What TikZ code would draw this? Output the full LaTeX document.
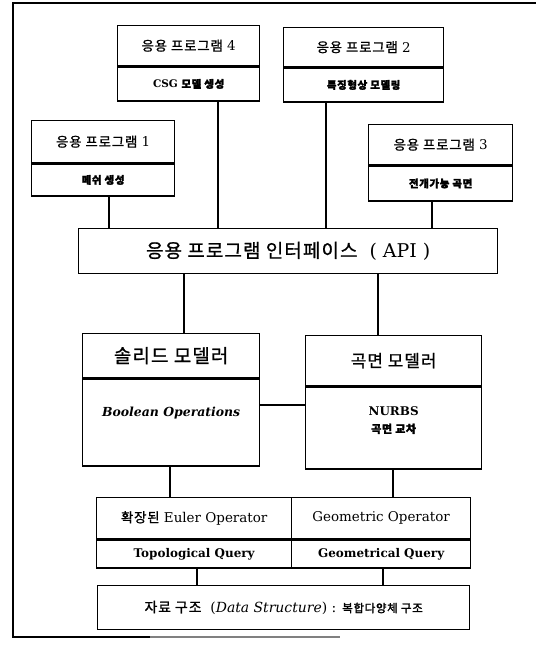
\documentclass[tikz,border=0pt]{standalone}
\usepackage{fontspec}
\setmainfont{DejaVu Serif}
\newfontfamily\kr{Noto Sans CJK KR}[LetterSpace=6,FakeBold=1]
\newfontfamily\krb{Noto Sans CJK KR}[FakeBold=2,LetterSpace=6]
\begin{document}
\begin{tikzpicture}[x=1bp,y=-1bp,
  box/.style={draw,line width=1.3bp,inner sep=0pt,anchor=north west,align=center},
  conn/.style={draw,line width=1.1bp},
  ttl/.style={font=\fontsize{13.5}{15}\selectfont},
  sub/.style={font=\fontsize{10.5}{12}\selectfont\bfseries},
  qry/.style={font=\fontsize{12}{14}\selectfont\bfseries},
  big/.style={font=\fontsize{17}{20}\selectfont}]
\useasboundingbox (0,0) rectangle (536,647);
% frame
\draw[line width=1.2bp] (536,3) -- (13,3) -- (13,637) -- (150,637);
\draw[line width=1.1bp,gray] (150,637) -- (340,637);
% application boxes
\node[box,ttl,minimum width=142bp,minimum height=40bp] (a4t) at (117,25) {{\kr 응용 프로그램} 4};
\node[box,sub,minimum width=142bp,minimum height=34bp] (a4b) at (a4t.south west) {CSG {\krb 모델 생성}};
\node[box,ttl,minimum width=160bp,minimum height=39bp] (a2t) at (283,27) {{\kr 응용 프로그램} 2};
\node[box,sub,minimum width=160bp,minimum height=34bp] (a2b) at (a2t.south west) {{\krb 특징형상 모델링}};
\node[box,ttl,minimum width=143bp,minimum height=42bp] (a1t) at (31,120) {{\kr 응용 프로그램} 1};
\node[box,sub,minimum width=143bp,minimum height=32bp] (a1b) at (a1t.south west) {{\krb 메쉬 생성}};
\node[box,ttl,minimum width=144bp,minimum height=40bp] (a3t) at (368,124) {{\kr 응용 프로그램} 3};
\node[box,sub,minimum width=144bp,minimum height=35bp] (a3b) at (a3t.south west) {{\krb 전개가능 곡면}};
% API
\node[box,font=\fontsize{19}{22}\selectfont,minimum width=419bp,minimum height=45bp] (api) at (78,228) {{\kr 응용 프로그램 인터페이스} \ ( API )};
% modelers
\node[box,font=\fontsize{19}{22}\selectfont,minimum width=177bp,minimum height=44bp] (solt) at (82,333) {{\kr 솔리드 모델러}};
\node[box,minimum width=177bp,minimum height=87bp,font=\fontsize{12.5}{14}\selectfont\bfseries\itshape] (solb) at (solt.south west) {Boolean Operations\\[8bp]};
\node[box,big,minimum width=176bp,minimum height=50bp] (surt) at (305,335) {{\kr 곡면 모델러}};
\node[box,qry,minimum width=176bp,minimum height=82bp] (surb) at (surt.south west) {NURBS\\[3bp]{\krb\fontsize{11}{13}\selectfont 곡면 교차}\\[2bp]};
% operators
\node[box,font=\fontsize{13.5}{16}\selectfont,minimum width=195bp,minimum height=41bp] (eut) at (96,497) {{\kr 확장된} Euler Operator};
\node[box,qry,minimum width=195bp,minimum height=28bp] (eub) at (eut.south west) {Topological Query};
\node[box,font=\fontsize{13.5}{16}\selectfont,minimum width=179bp,minimum height=41bp] (get) at (291,497) {Geometric Operator};
\node[box,qry,minimum width=179bp,minimum height=28bp] (geb) at (get.south west) {Geometrical Query};
% data structure
\node[box,font=\fontsize{14}{16}\selectfont,minimum width=372bp,minimum height=44bp] (data) at (97,585) {{\kr 자료 구조} \ ({\itshape Data Structure}) : {\krb\fontsize{11.5}{13}\selectfont 복합다양체 구조}};
% x positions of connectors
\coordinate (c1) at (109,0);
\coordinate (c4) at (218,0);
\coordinate (c2) at (326,0);
\coordinate (c3) at (432,0);
\coordinate (cs) at (184,0);
\coordinate (cf) at (378,0);
\coordinate (ce) at (170,0);
\coordinate (cg) at (393,0);
\coordinate (d1) at (197,0);
\coordinate (d2) at (383,0);
\coordinate (hy) at (0,405);
% connectors
\draw[conn] (a1b.south -| c1) -- (api.north -| c1);
\draw[conn] (a4b.south -| c4) -- (api.north -| c4);
\draw[conn] (a2b.south -| c2) -- (api.north -| c2);
\draw[conn] (a3b.south -| c3) -- (api.north -| c3);
\draw[conn] (api.south -| cs) -- (solt.north -| cs);
\draw[conn] (api.south -| cf) -- (surt.north -| cf);
\draw[conn] (solb.east |- hy) -- (surb.west |- hy);
\draw[conn] (solb.south -| ce) -- (eut.north -| ce);
\draw[conn] (surb.south -| cg) -- (get.north -| cg);
\draw[conn] (eub.south -| d1) -- (data.north -| d1);
\draw[conn] (geb.south -| d2) -- (data.north -| d2);
\end{tikzpicture}
\end{document}
